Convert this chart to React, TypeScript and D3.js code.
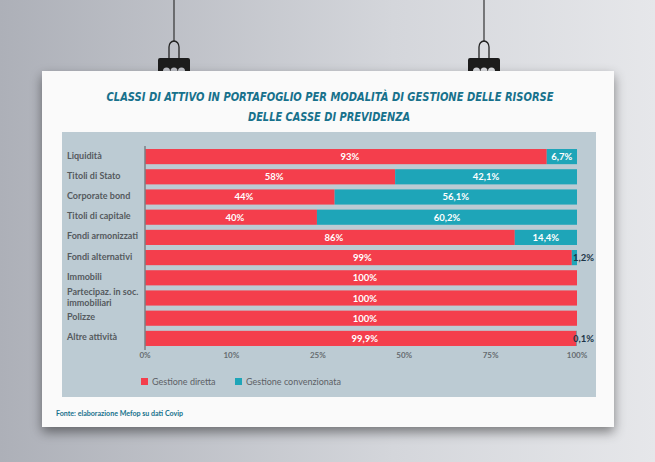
import React from "react";
import * as d3 from "d3";

const categories = [
  "Liquidità",
  "Titoli di Stato",
  "Corporate bond",
  "Titoli di capitale",
  "Fondi armonizzati",
  "Fondi alternativi",
  "Immobili",
  "Partecipaz. in soc.|immobiliari",
  "Polizze",
  "Altre attività",
];
const diretta = [93, 58, 44, 40, 86, 99, 100, 100, 100, 99.9];
const convenzionata = [6.7, 42.1, 56.1, 60.2, 14.4, 1.2, 0, 0, 0, 0.1];
const direttaLabels = ["93%", "58%", "44%", "40%", "86%", "99%", "100%", "100%", "100%", "99,9%"];
const convLabels = ["6,7%", "42,1%", "56,1%", "60,2%", "14,4%", "1,2%", "", "", "", "0,1%"];
const tickPositions = [0, 20, 40, 60, 80, 100];
const tickLabels = ["0%", "10%", "25%", "50%", "75%", "100%"];
const seriesNames = ["Gestione diretta", "Gestione convenzionata"];

const W = 655;
const H = 462;
const RED = "#f43e4c";
const TEAL = "#1ea5b8";
const PANEL = "#bccbd3";
const TITLE = "#17718c";
const FONT = "Lato, 'Open Sans', sans-serif";

export default function App() {
  const x = d3.scaleLinear().domain([0, 100]).range([145, 577]);
  const y = d3.scaleBand<number>().domain(d3.range(categories.length)).range([147, 348]).paddingInner(0.25).paddingOuter(0.1);
  const bh = y.bandwidth();

  const hanger = (cx: number) => (
    <g key={cx}>
      <line x1={cx} y1={0} x2={cx} y2={42} stroke="#333" strokeWidth={1.2} />
      <path d={`M${cx - 5},58 L${cx - 5},47 A5,6 0 0 1 ${cx + 5},47 L${cx + 5},58`} fill="none" stroke="#222" strokeWidth={1.3} />
      <path
        d={`M${cx - 16},60 Q${cx - 16},58 ${cx - 14},58 L${cx + 14},58 Q${cx + 16},58 ${cx + 16},60 L${cx + 16},71 L${cx + 11},71 A3.5,3.5 0 0 0 ${cx + 4},71 L${cx + 3.5},71 A3.5,3.5 0 0 0 ${cx - 3.5},71 L${cx - 4},71 A3.5,3.5 0 0 0 ${cx - 11},71 L${cx - 16},71 Z`}
        fill="#1c1c1c"
      />
    </g>
  );

  return (
    <svg width={W} height={H} style={{ position: "absolute", left: 0, top: 0 }} fontFamily={FONT}>
      <defs>
        <linearGradient id="bg" x1="0" y1="0" x2="1" y2="0">
          <stop offset="0" stopColor="#adb0b8" />
          <stop offset="0.6" stopColor="#d4d6db" />
          <stop offset="1" stopColor="#e6e7ea" />
        </linearGradient>
        <filter id="sh" x="-10%" y="-10%" width="120%" height="130%">
          <feDropShadow dx="0" dy="5" stdDeviation="6" floodColor="#000" floodOpacity="0.45" />
        </filter>
      </defs>
      <rect width={W} height={H} fill="url(#bg)" />
      <rect x={42} y={71} width={572} height={356} fill="#fafafa" filter="url(#sh)" />
      {hanger(174)}
      {hanger(484)}
      <text x={330} y={101} textAnchor="middle" fill={TITLE} fontFamily="'DejaVu Sans Condensed', 'DejaVu Sans', sans-serif" fontWeight="bold" fontStyle="italic" fontSize={12.5} textLength={447} lengthAdjust="spacingAndGlyphs">
        CLASSI DI ATTIVO IN PORTAFOGLIO PER MODALITÀ DI GESTIONE DELLE RISORSE
      </text>
      <text x={329} y={121} textAnchor="middle" fill={TITLE} fontFamily="'DejaVu Sans Condensed', 'DejaVu Sans', sans-serif" fontWeight="bold" fontStyle="italic" fontSize={12.5} textLength={162} lengthAdjust="spacingAndGlyphs">
        DELLE CASSE DI PREVIDENZA
      </text>
      <rect x={62} y={132} width={534} height={265} fill={PANEL} />

      {categories.map((c, i) => {
        const lines = c.split("|");
        const cy = (y(i) as number) + bh / 2;
        return (
          <text key={c} x={67} y={cy - (lines.length - 1) * 5.5 + 2} fontSize={9} fill="#555a5e" fontWeight="bold">
            {lines.map((l, j) => (
              <tspan key={j} x={67} dy={j === 0 ? 0 : 11}>
                {l}
              </tspan>
            ))}
          </text>
        );
      })}

      {diretta.map((v, i) => {
        const y0 = y(i) as number;
        const c = convenzionata[i];
        const x1 = x(Math.min(v, 100 - c));
        return (
          <g key={i}>
            <rect x={x(0)} y={y0} width={x1 - x(0)} height={bh} fill={RED} />
            {c > 0 && <rect x={x1} y={y0} width={x(100) - x1} height={bh} fill={TEAL} />}
            <text x={(x(0) + x1) / 2 + 4} y={y0 + bh / 2 + 3.5} textAnchor="middle" fontSize={9.5} fill="#fff" fontWeight="bold">
              {direttaLabels[i]}
            </text>
            {c > 5 && (
              <text x={(x1 + x(100)) / 2} y={y0 + bh / 2 + 3.5} textAnchor="middle" fontSize={9.5} fill="#fff" fontWeight="bold">
                {convLabels[i]}
              </text>
            )}
            {c > 0 && c <= 5 && (
              <text x={x(100) - 4} y={y0 + bh / 2 + 3.5} textAnchor="start" fontSize={9.5} fill="#1b3447" fontWeight="bold">
                {convLabels[i]}
              </text>
            )}
          </g>
        );
      })}

      <line x1={x(0)} x2={x(0)} y1={146} y2={350} stroke="#7a7f84" strokeWidth={1.5} />
      {tickPositions.map((t, i) => (
        <text key={t} x={x(t)} y={358} textAnchor="middle" fontSize={8} fill="#666b70" fontWeight="bold">
          {tickLabels[i]}
        </text>
      ))}

      <rect x={141} y={378} width={7} height={7} fill={RED} />
      <text x={152} y={385} fontSize={9} fill="#5c6166">{seriesNames[0]}</text>
      <rect x={235} y={378} width={7} height={7} fill={TEAL} />
      <text x={246} y={385} fontSize={9} fill="#5c6166">{seriesNames[1]}</text>

      <text x={56} y={416} fontSize={7.5} fill={TITLE} fontWeight="bold" textLength={127} lengthAdjust="spacingAndGlyphs">
        Fonte: elaborazione Mefop su dati Covip
      </text>
    </svg>
  );
}
